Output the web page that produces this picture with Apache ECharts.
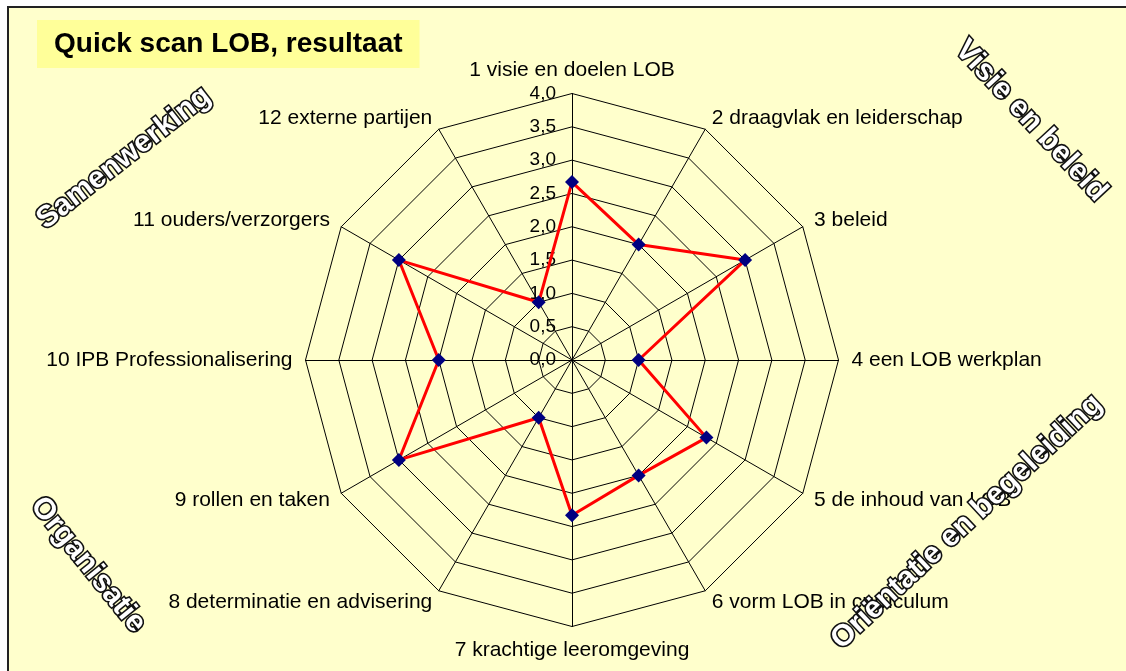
<!DOCTYPE html>
<html>
<head>
<meta charset="utf-8">
<title>Quick scan LOB, resultaat</title>
<script src="https://cdn.jsdelivr.net/npm/echarts@6/dist/echarts.min.js"></script>
<style>
  html, body { margin: 0; padding: 0; background: #ffffff; }
  #chart { width: 1126px; height: 671px; }
</style>
</head>
<body>
<div id="chart"></div>
<script>
// indicators of the quick scan (12 spokes, clockwise from the top)
var indicators = [
  '1 visie en doelen LOB',
  '2 draagvlak en leiderschap',
  '3 beleid',
  '4 een LOB werkplan',
  '5 de inhoud van LOB',
  '6 vorm LOB in curriculum',
  '7 krachtige leeromgeving',
  '8 determinatie en advisering',
  '9 rollen en taken',
  '10 IPB Professionalisering',
  '11 ouders/verzorgers',
  '12 externe partijen'
];
// scores
var scores = [2.67, 2.0, 3.0, 1.0, 2.33, 2.0, 2.33, 1.0, 3.0, 2.0, 3.0, 1.0];
var scaleMax = 4;
var scaleStep = 0.5;

// rotated section headings
var sections = [
  { text: 'Visie en beleid', x: 1031, y: 121, angle: -47 },
  { text: 'Samenwerking', x: 124, y: 158, angle: 38 },
  { text: 'Oriëntatie en begeleiding', x: 967, y: 522, angle: 43 },
  { text: 'Organisatie', x: 88, y: 565, angle: -51 }
];

var FONT = '"Liberation Sans", Arial, sans-serif';
var center = [572, 360];
var radius = 266.5;

// echarts radar runs counter-clockwise, so keep item 1 on top and flip the rest
function clockwise(arr) {
  return [arr[0]].concat(arr.slice(1).reverse());
}

var chartDom = document.getElementById('chart');
var myChart = echarts.init(chartDom);
var option;

var graphics = [
  {
    type: 'rect',
    z: -10,
    silent: true,
    shape: { x: 8, y: 7, width: 1200, height: 700 },
    style: { fill: '#FFFFCC', stroke: '#222222', lineWidth: 2 }
  }
];
sections.forEach(function (s) {
  graphics.push({
    type: 'text',
    x: s.x,
    y: s.y,
    rotation: s.angle * Math.PI / 180,
    z: 100,
    style: {
      text: s.text,
      font: 'bold 30px ' + FONT,
      fill: '#ffffff',
      stroke: '#111111',
      lineWidth: 3.2,
      strokeFirst: true,
      align: 'center',
      verticalAlign: 'middle'
    }
  });
});

option = {
  backgroundColor: '#ffffff',
  animation: false,
  title: {
    text: 'Quick scan LOB, resultaat',
    left: 37,
    top: 20,
    padding: [10, 17, 10, 17],
    backgroundColor: '#FFFF99',
    textStyle: {
      fontFamily: FONT,
      fontWeight: 'bold',
      fontSize: 28,
      color: '#000000'
    }
  },
  graphic: graphics,
  radar: {
    center: center,
    radius: radius,
    shape: 'polygon',
    startAngle: 90,
    splitNumber: scaleMax / scaleStep,
    nameGap: 13,
    indicator: clockwise(indicators).map(function (n) {
      return { name: n, min: 0, max: scaleMax };
    }),
    axisName: {
      color: '#000000',
      fontFamily: FONT,
      fontSize: 21
    },
    axisLine: { lineStyle: { color: '#000000', width: 1 } },
    splitLine: { lineStyle: { color: '#000000', width: 1 } },
    splitArea: { show: false }
  },
  // polar only used to print the value scale along the vertical spoke
  polar: {
    center: center,
    radius: radius
  },
  angleAxis: {
    startAngle: 90,
    show: false,
    min: 0,
    max: 360
  },
  radiusAxis: {
    min: 0,
    max: scaleMax,
    interval: scaleStep,
    axisLine: { show: false },
    axisTick: { show: false },
    splitLine: { show: false },
    axisLabel: {
      margin: 16,
      color: '#000000',
      fontFamily: FONT,
      fontSize: 19,
      formatter: function (v) {
        return v.toFixed(1).replace('.', ',');
      }
    }
  },
  series: [
    {
      type: 'radar',
      symbol: 'diamond',
      symbolSize: 14,
      lineStyle: { color: '#FF0000', width: 3 },
      itemStyle: { color: '#000080' },
      data: [{ value: clockwise(scores), name: 'resultaat' }]
    }
  ]
};

option && myChart.setOption(option);
</script>
</body>
</html>
